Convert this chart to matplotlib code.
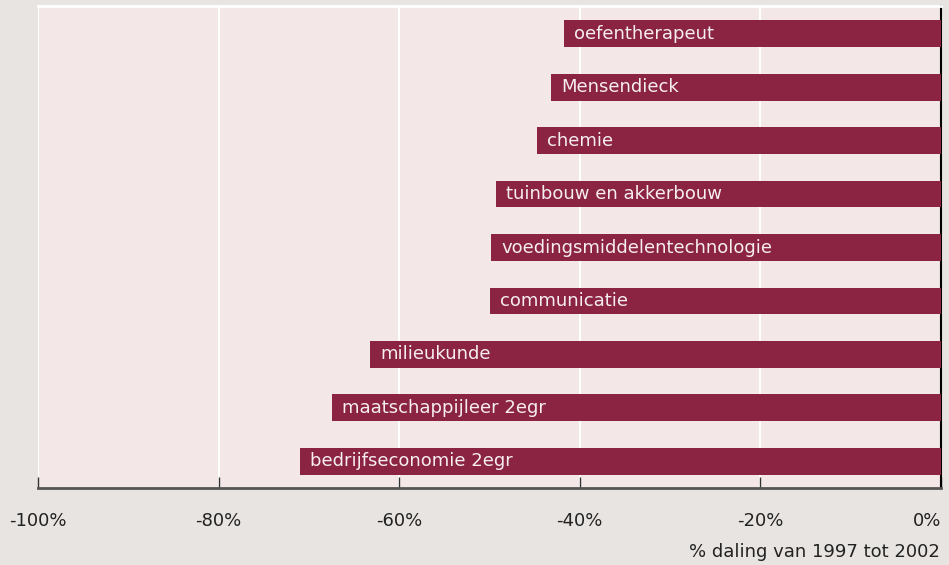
import matplotlib
matplotlib.use('Agg')
import matplotlib.pyplot as plt

# opleidingen, van boven naar beneden
studies = ['oefentherapeut', 'Mensendieck', 'chemie', 'tuinbouw en akkerbouw',
           'voedingsmiddelentechnologie', 'communicatie', 'milieukunde',
           'maatschappijleer 2egr', 'bedrijfseconomie 2egr']
daling = [-41.7, -43.2, -44.7, -49.3, -49.8, -49.9, -63.2, -67.4, -71.0]

tick_values = [-100, -80, -60, -40, -20, 0]
tick_labels = ['-100%', '-80%', '-60%', '-40%', '-20%', '0%']

bar_color = '#8b2443'
fig = plt.figure(figsize=(9.49, 5.65), dpi=100, facecolor='#e8e4e1')
ax = fig.add_axes([38 / 949, 1 - 488 / 565, 903 / 949, 482 / 565])
ax.set_facecolor('#f3e7e7')

# bovenste balk bovenaan: posities omdraaien
ypos = list(range(len(studies)))[::-1]
ax.barh(ypos, daling, height=0.5, color=bar_color, zorder=3)

for y, v, name in zip(ypos, daling, studies):
    ax.annotate(name, (v, y), xytext=(10, 0), textcoords='offset pixels',
                ha='left', va='center', color='#f6eef0', fontsize=13, zorder=4)

ax.set_xlim(-100, 0)
ax.set_ylim(-0.5, 8.52)
ax.set_yticks([])
ax.set_xticks(tick_values)
ax.set_xticklabels(tick_labels, fontsize=13, color='#222222')
ax.get_xticklabels()[-1].set_ha('right')
ax.tick_params(axis='x', direction='in', length=8, width=1, color='#333333', pad=17)

ax.grid(axis='x', color='white', linewidth=1.5, zorder=1)
ax.set_axisbelow(True)

ax.spines['top'].set_color('white')
ax.spines['top'].set_linewidth(2)
ax.spines['left'].set_visible(False)
ax.spines['right'].set_color('black')
ax.spines['right'].set_linewidth(1.5)
ax.spines['bottom'].set_color('#555555')
ax.spines['bottom'].set_linewidth(2)

fig.text(940 / 949, 1 - 552 / 565, '% daling van 1997 tot 2002', ha='right', va='center',
         fontsize=13, color='#222222')

plt.savefig('out.png', dpi=100, facecolor=fig.get_facecolor())
